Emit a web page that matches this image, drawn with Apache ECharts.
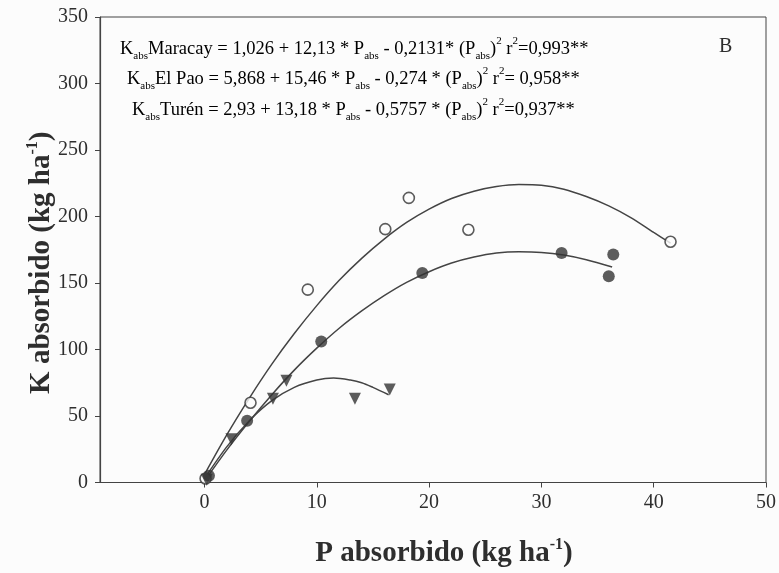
<!DOCTYPE html>
<html>
<head>
<meta charset="utf-8">
<script src="https://cdn.jsdelivr.net/npm/echarts@6/dist/echarts.min.js"></script>
<style>
  html, body { margin: 0; padding: 0; background: #fcfcfc; }
  #chart { width: 779px; height: 573px; }
</style>
</head>
<body>
<div id="chart"></div>
<script>
// observed points (P absorbido, K absorbido)
const maracayP = [0.4, 3.8, 10.4, 19.4, 31.8, 36.0, 36.4];
const maracayK = [5, 46.5, 106, 157.5, 172.5, 155, 171.5];
const elPaoP = [0.1, 4.1, 9.2, 16.1, 18.2, 23.5, 41.5];
const elPaoK = [3, 60, 145, 190.5, 214, 190, 181];
const turenP = [0.2, 2.4, 6.1, 7.3, 13.4, 16.5];
const turenK = [2, 32.5, 63, 76.5, 63, 70];

// fitted curves
const maracayFitP = [0, 2, 4, 6, 8, 10, 12, 14, 16, 18, 20, 22, 24, 26, 28, 30, 32, 34, 36.3];
const maracayFitK = [1, 24.5, 46, 66, 84.5, 101, 116, 129, 140.5, 150.5, 158.5, 165, 169.5, 172.5, 173.5, 173, 171, 167.5, 162];
const elPaoFitP = [0, 2, 4, 6, 8, 10, 12, 14, 16, 18, 20, 22, 24, 26, 28, 30, 32, 34, 36, 38, 40, 41.5];
const elPaoFitK = [6, 36, 63.5, 89, 112, 133, 152, 168.5, 183, 195.5, 205.5, 213.5, 219, 222.5, 224, 223.5, 220.5, 215, 208, 199, 188, 180];
const turenFitP = [0, 2, 4, 6, 8, 10, 11.5, 13, 14, 15, 16.4];
const turenFitK = [3, 27, 46.5, 61.5, 71.5, 77, 78.5, 77, 75, 71.5, 66];

const xTicks = [0, 10, 20, 30, 40, 50];

const pairs = (xs, ys) => xs.map((x, i) => [x, ys[i]]);

const ink = '#2e2e2e';
const serif = '"Liberation Serif", "DejaVu Serif", serif';

const eqRich = {
  t: { fontSize: 18.5, fontFamily: serif, color: ink, lineHeight: 26 },
  sub: { fontSize: 11, fontFamily: serif, color: ink, lineHeight: 12, verticalAlign: 'bottom' },
  sup: { fontSize: 11, fontFamily: serif, color: ink, lineHeight: 13, verticalAlign: 'top' }
};

const eqText = (site, a, b, c, r2) =>
  '{t|K}{sub|abs}{t|' + site + ' = ' + a + ' + ' + b + ' * P}{sub|abs}{t| - ' + c + ' (P}{sub|abs}{t|)}{sup|2}{t| r}{sup|2}{t|' + r2 + '**}';

const axisRich = {
  b: { fontSize: 29, fontWeight: 'bold', fontFamily: serif, color: ink, lineHeight: 34 },
  s: { fontSize: 16, fontWeight: 'bold', fontFamily: serif, color: ink, lineHeight: 15, verticalAlign: 'top' }
};

const chart = echarts.init(document.getElementById('chart'));

const option = {
  backgroundColor: '#fcfcfc',
  animation: false,
  grid: {
    left: 100,
    right: 12,
    top: 17,
    bottom: 88,
    show: true,
    borderColor: '#444',
    borderWidth: 1
  },
  xAxis: {
    type: 'value',
    min: -9.3,
    max: 50,
    name: '{b|P absorbido (kg ha}{s|-1}{b|)}',
    nameLocation: 'middle',
    nameGap: 54,
    nameMoveOverlap: false,
    nameTextStyle: { padding: [0, 0, 0, 22], rich: axisRich },
    axisLine: { onZero: false, lineStyle: { color: '#444', width: 1.2 } },
    axisTick: { customValues: xTicks, length: 5, lineStyle: { color: '#444' } },
    axisLabel: { customValues: xTicks, margin: 10, fontSize: 20, fontFamily: serif, color: ink },
    splitLine: { show: false }
  },
  yAxis: {
    type: 'value',
    min: 0,
    max: 350,
    interval: 50,
    name: '{b|K absorbido (kg ha}{s|-1}{b|)}',
    nameLocation: 'middle',
    nameGap: 41,
    nameMoveOverlap: false,
    nameTextStyle: { padding: [0, 26, 0, 0], rich: axisRich },
    axisLine: { show: true, onZero: false, lineStyle: { color: '#444', width: 1.2 } },
    axisTick: { show: true, length: 5, lineStyle: { color: '#444' } },
    axisLabel: { margin: 12, fontSize: 20, fontFamily: serif, color: ink },
    splitLine: { show: false }
  },
  graphic: [
    { type: 'text', left: 120, top: 36, style: { text: eqText('Maracay', '1,026', '12,13', '0,2131*', '=0,993'), rich: eqRich } },
    { type: 'text', left: 127, top: 66, style: { text: eqText('El Pao', '5,868', '15,46', '0,274 *', '= 0,958'), rich: eqRich } },
    { type: 'text', left: 132, top: 97, style: { text: eqText('Turén', '2,93', '13,18', '0,5757 *', '=0,937'), rich: eqRich } },
    { type: 'text', left: 719, top: 37, style: { text: 'B', fontSize: 20, fontFamily: serif, fill: ink } }
  ],
  series: [
    {
      name: 'El Pao ajuste', type: 'line', smooth: 0.3, showSymbol: false,
      lineStyle: { color: '#444', width: 1.5 }, data: pairs(elPaoFitP, elPaoFitK), z: 2
    },
    {
      name: 'Maracay ajuste', type: 'line', smooth: 0.3, showSymbol: false,
      lineStyle: { color: '#444', width: 1.5 }, data: pairs(maracayFitP, maracayFitK), z: 2
    },
    {
      name: 'Turén ajuste', type: 'line', smooth: 0.3, showSymbol: false,
      lineStyle: { color: '#444', width: 1.5 }, data: pairs(turenFitP, turenFitK), z: 2
    },
    {
      name: 'El Pao', type: 'scatter', symbol: 'circle', symbolSize: 11,
      itemStyle: { color: '#fcfcfc', borderColor: '#333', borderWidth: 1.6 },
      data: pairs(elPaoP, elPaoK), z: 3
    },
    {
      name: 'Maracay', type: 'scatter', symbol: 'circle', symbolSize: 12,
      itemStyle: { color: '#333' },
      data: pairs(maracayP, maracayK), z: 3
    },
    {
      name: 'Turén', type: 'scatter', symbol: 'triangle', symbolRotate: 180, symbolSize: 12,
      itemStyle: { color: '#333' },
      data: pairs(turenP, turenK), z: 3
    }
  ]
};

chart.setOption(option);
</script>
</body>
</html>
